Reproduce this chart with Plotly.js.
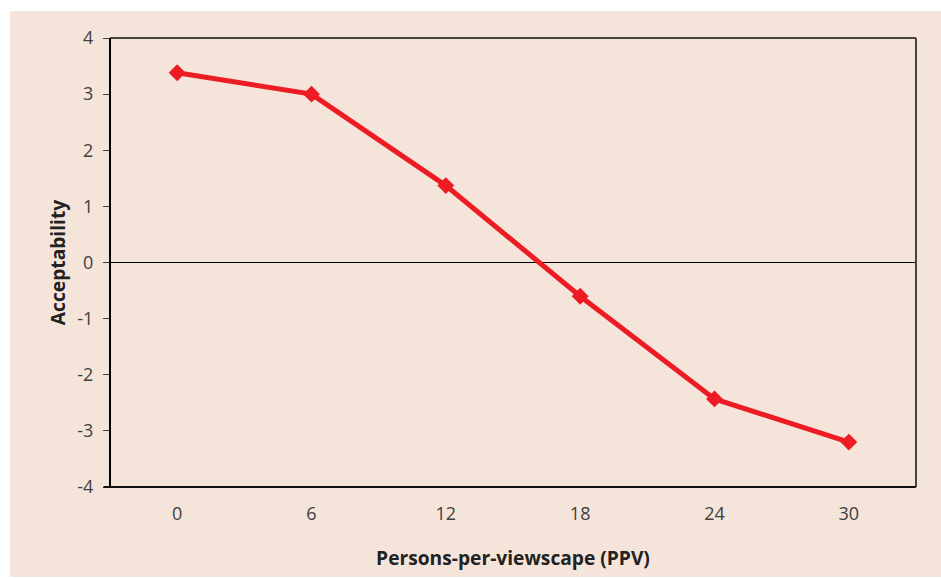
<!DOCTYPE html>
<html>
<head>
<meta charset="utf-8">
<script src="https://cdn.plot.ly/plotly-3.0.1.min.js"></script>
<style>
html,body{margin:0;padding:0;background:#ffffff;}
#wrap{position:absolute;left:10px;top:11px;width:931px;height:566px;}
#chart{width:931px;height:566px;}
</style>
</head>
<body>
<div id="wrap"><div id="chart"></div></div>
<script>
const categories = ["0", "6", "12", "18", "24", "30"];
const acceptability = [3.38, 3.0, 1.37, -0.6, -2.43, -3.2];
const yTicks = [-4, -3, -2, -1, 0, 1, 2, 3, 4];

const trace = {
  x: categories,
  y: acceptability,
  type: "scatter",
  mode: "lines+markers",
  line: {color: "#ed1c24", width: 5},
  marker: {symbol: "diamond", size: 13, color: "#ed1c24"},
  hoverinfo: "x+y"
};

const titleFont = {size: 19.2, color: "#222222", family: "Open Sans, DejaVu Sans, sans-serif", weight: "bold"};

const layout = {
  width: 931,
  height: 566,
  paper_bgcolor: "#f5e4d9",
  plot_bgcolor: "#f5e4d9",
  margin: {l: 100, r: 25, t: 27, b: 90},
  showlegend: false,
  font: {family: "Open Sans, DejaVu Sans, sans-serif", color: "#404040", size: 18},
  xaxis: {
    type: "category",
    range: [-0.5, 5.5],
    showgrid: false,
    zeroline: false,
    showline: false,
    ticks: "",
    ticklabelstandoff: 14,
    tickfont: {size: 18, color: "#404040"},
    title: {text: "Persons-per-viewscape (PPV)", font: titleFont, standoff: 27}
  },
  yaxis: {
    range: [-4, 4],
    tickvals: yTicks,
    ticktext: yTicks.map(String),
    showgrid: false,
    zeroline: true,
    zerolinecolor: "#000000",
    zerolinewidth: 1,
    showline: false,
    ticks: "outside",
    ticklen: 6,
    tickwidth: 1,
    tickcolor: "#404040",
    ticklabelstandoff: 6,
    tickfont: {size: 18, color: "#404040"},
    title: {text: "Acceptability", font: titleFont, standoff: 6}
  },
  shapes: [
    {type: "line", xref: "paper", yref: "paper", x0: 0, x1: 1, y0: 1, y1: 1, line: {color: "#4a4440", width: 2}},
    {type: "line", xref: "paper", yref: "paper", x0: 1, x1: 1, y0: 0, y1: 1, line: {color: "#4a4440", width: 2}},
    {type: "line", xref: "paper", yref: "paper", x0: -0.008, x1: 1, y0: 0, y1: 0, line: {color: "#111111", width: 2}},
    {type: "line", xref: "paper", yref: "paper", x0: 0, x1: 0, y0: 0, y1: 1, line: {color: "#000000", width: 2}}
  ]
};

Plotly.newPlot("chart", [trace], layout, {displayModeBar: false, staticPlot: true});
</script>
</body>
</html>
